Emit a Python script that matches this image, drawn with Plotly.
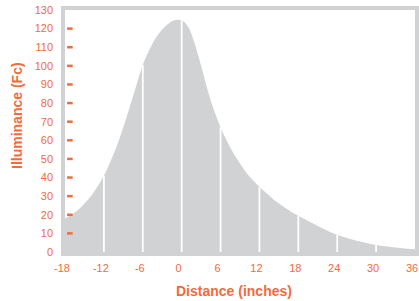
import plotly.graph_objects as go

distance = [-18, -17, -16, -15, -14, -13, -12, -11, -10, -9, -8, -7, -6, -5, -4, -3, -2, -1, 0,
            1, 2, 3, 4, 5, 6, 7, 8, 9, 10, 11, 12, 13, 14, 15, 16, 17, 18,
            20, 22, 24, 26, 28, 30, 32, 34, 36]
illuminance = [18, 20, 22.5, 26, 30, 35, 41, 48.5, 57, 67, 78, 89.5, 100.5, 108.5, 115, 119.5, 122.8, 124.6, 124.5,
               121, 112, 100, 87, 76, 67, 59.5, 53, 47.5, 42.5, 38.5, 35, 31.8, 28.8, 26, 23.6, 21.4, 19.5,
               15.8, 12.2, 9.2, 7, 5.2, 3.8, 2.8, 2, 1.5]
x_ticks = [-18, -12, -6, 0, 6, 12, 18, 24, 30, 36]
white_line_x = [-12, -6, 0, 6, 12, 18, 24, 30]
y_ticks = [0, 10, 20, 30, 40, 50, 60, 70, 80, 90, 100, 110, 120, 130]
y_marks = [10, 20, 30, 40, 50, 60, 70, 80, 90, 100, 110, 120]

ORANGE = "#f26b3d"
GRAY = "#d1d2d4"
FONT = "Liberation Sans, Arial, sans-serif"

fig = go.Figure()
fig.add_trace(go.Scatter(x=distance, y=illuminance, mode="lines", line=dict(color=GRAY, width=0, shape="spline"),
                         fill="tozeroy", fillcolor=GRAY, hoverinfo="skip", showlegend=False))

lookup = dict(zip(distance, illuminance))
for xv in white_line_x:
    fig.add_trace(go.Scatter(x=[xv, xv], y=[0, lookup[xv]], mode="lines",
                             line=dict(color="white", width=1.8), hoverinfo="skip", showlegend=False))

fig.add_trace(go.Scatter(x=[-17.25] * len(y_marks), y=y_marks, mode="markers",
                         marker=dict(symbol="line-ew", size=4, line=dict(color=ORANGE, width=2.5)),
                         hoverinfo="skip", showlegend=False))

fig.update_layout(
    width=419, height=301,
    margin=dict(l=65, r=4, t=10, b=49),
    plot_bgcolor="white", paper_bgcolor="white",
    font=dict(family=FONT, color=ORANGE, size=11),
    xaxis=dict(range=[-18, 36], tickvals=x_ticks, ticktext=[str(v) for v in x_ticks],
               automargin=False, ticklabelshift=-3,
               showgrid=False, zeroline=False, showline=True, mirror=True,
               linecolor=GRAY, linewidth=3.5, ticks="outside", ticklen=3, tickcolor="rgba(0,0,0,0)",
               tickfont=dict(size=11, color=ORANGE)),
    yaxis=dict(range=[0, 130], tickvals=y_ticks, showgrid=False, zeroline=False, showline=True, mirror=True,
               automargin=False,
               linecolor=GRAY, linewidth=3.5, ticks="outside", ticklen=6, tickcolor="rgba(0,0,0,0)",
               tickfont=dict(size=11, color=ORANGE)),
    annotations=[
        dict(text="Distance (inches)", xref="paper", yref="paper", x=0.483, y=0, yshift=-39,
             xanchor="center", yanchor="middle", showarrow=False,
             font=dict(size=14, color=ORANGE, weight="bold", family=FONT)),
        dict(text="Illuminance (Fc)", xref="paper", yref="paper", x=0, xshift=-48, y=0.562,
             xanchor="center", yanchor="middle", showarrow=False, textangle=-90,
             font=dict(size=14, color=ORANGE, weight="bold", family=FONT)),
    ],
)

fig.write_html("out.html", config={"displayModeBar": False},
               post_script="document.body.style.margin='0';document.body.style.overflow='hidden';")
